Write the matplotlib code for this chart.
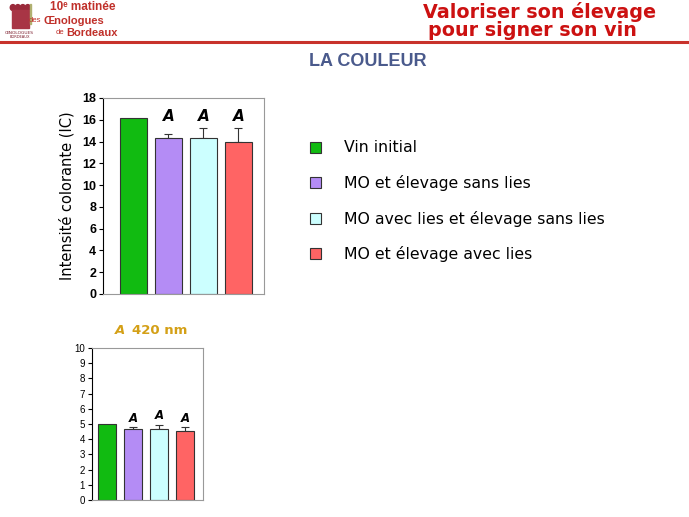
import matplotlib
matplotlib.use("Agg")
import matplotlib.pyplot as plt
from matplotlib.patches import Rectangle
import numpy as np

# data
groupes = ["Vin initial", "MO et élevage sans lies",
           "MO avec lies et élevage sans lies", "MO et élevage avec lies"]
couleurs = ["#11bb11", "#b48cf5", "#ccffff", "#ff6464"]

ic_valeurs = [16.15, 14.3, 14.3, 14.0]
ic_erreurs = [0.0, 0.4, 0.9, 1.2]
ic_lettres = ["", "A", "A", "A"]

a420_valeurs = [5.02, 4.66, 4.66, 4.53]
a420_erreurs = [0.0, 0.13, 0.29, 0.28]
a420_lettres = ["", "A", "A", "A"]

W, H = 689, 517
fig = plt.figure(figsize=(W / 100, H / 100), dpi=100)
fig.patch.set_facecolor("white")


def px_axes(x0, y0, x1, y1):
    # pixel box (top-left origin) -> figure axes
    return fig.add_axes([x0 / W, (H - y1) / H, (x1 - x0) / W, (y1 - y0) / H])


def fy(y):
    return (H - y) / H


# --- header ---
fig.add_artist(plt.Line2D([0, 1], [fy(41.5)] * 2, color="#c8322c", lw=2.2))
fig.text(423 / W, fy(17.5), "Valoriser son élevage", color="#cc1111",
         fontsize=13.8, fontweight="bold", family="DejaVu Sans", va="baseline")
fig.text(428 / W, fy(36), "pour signer son vin", color="#cc1111",
         fontsize=13.8, fontweight="bold", family="DejaVu Sans", va="baseline")

rouge = "#c0302a"
fig.text(50 / W, fy(7.5), "10ᵉ matinée", color=rouge, fontsize=8.5,
         fontweight="bold", family=["Liberation Sans", "DejaVu Sans"],
         ha="left", va="center")
fig.text(41 / W, fy(21), "des", color=rouge, fontsize=5.5,
         family="Liberation Sans", ha="right", va="center")
fig.text(43 / W, fy(21), "Œnologues", color=rouge, fontsize=8,
         fontweight="bold", family="Liberation Sans", ha="left", va="center")
fig.text(64 / W, fy(33), "de", color=rouge, fontsize=5.5,
         family="Liberation Sans", ha="right", va="center")
fig.text(66 / W, fy(33), "Bordeaux", color=rouge, fontsize=8,
         fontweight="bold", family="Liberation Sans", ha="left", va="center")

# small logo
logo = px_axes(3, 2, 36, 39)
logo.set_xlim(0, 1)
logo.set_ylim(0, 1)
logo.axis("off")
for cx in [0.3, 0.45, 0.6, 0.75]:
    logo.add_patch(plt.Circle((cx, 0.85), 0.08, color="#9a2a3a"))
logo.add_patch(Rectangle((0.28, 0.3), 0.5, 0.48, color="#a83545"))
logo.add_patch(Rectangle((0.82, 0.4), 0.04, 0.55, color="#b0b070"))
logo.text(0.5, 0.13, "ŒNOLOGUES", fontsize=3.2, color="#7a1a2a", ha="center")
logo.text(0.5, 0.02, "BORDEAUX", fontsize=2.6, color="#7a1a2a", ha="center")

fig.text(368 / W, fy(62), "LA COULEUR", color="#4a5a8c", fontsize=13,
         fontweight="bold", family="Liberation Sans", ha="center", va="center")


def barres(ax, valeurs, erreurs, lettres, largeur, ymax, pas, taille, lettre_y=None):
    x = np.arange(len(valeurs))
    bars = ax.bar(x, valeurs, width=largeur, color=couleurs,
                  edgecolor="#333333", linewidth=0.8, zorder=2)
    for xi, v, e in zip(x, valeurs, erreurs):
        if e > 0:
            ax.errorbar(xi, v, yerr=[[0], [e]], color="#333333", lw=0.8,
                        capsize=3, capthick=0.8, zorder=1)
    for xi, v, e, l in zip(x, valeurs, erreurs, lettres):
        if l:
            y = lettre_y if lettre_y is not None else v + e + ymax * 0.015
            ax.text(xi, y, l, fontsize=taille, fontstyle="italic",
                    fontweight="bold", ha="center", va="bottom", color="black")
    ax.set_ylim(0, ymax)
    ax.set_yticks(np.arange(0, ymax + 0.1, pas))
    ax.set_xticks([])
    for s in ["top", "right", "bottom"]:
        ax.spines[s].set_color("#999999")
    ax.spines["left"].set_color("black")
    ax.tick_params(axis="y", length=3, width=0.8, pad=2)
    return bars


# --- top chart: intensité colorante ---
ax1 = px_axes(103, 98, 264, 294)
bars = barres(ax1, ic_valeurs, ic_erreurs, ic_lettres, 0.75, 18, 2, 11, lettre_y=15.6)
ax1.set_xlim(-0.87, 3.73)
for t in ax1.get_yticklabels():
    t.set_fontweight("bold")
    t.set_fontsize(9)
    t.set_family("Liberation Sans")
ax1.set_ylabel("Intensité colorante (IC)", fontsize=10.5, labelpad=5)

# legend
fig.legend(bars, groupes, loc="upper left", frameon=False,
           bbox_to_anchor=(310 / W, fy(140.5)), borderaxespad=0,
           borderpad=0, fontsize=11.3, labelspacing=1.25,
           handlelength=0.7, handleheight=0.7, handletextpad=1.45)

# --- bottom chart: A 420 nm ---
ax2 = px_axes(92, 348, 203, 500)
barres(ax2, a420_valeurs, a420_erreurs, a420_lettres, 0.68, 10, 1, 8.5)
ax2.set_xlim(-0.56, 3.68)
for t in ax2.get_yticklabels():
    t.set_fontsize(7)
    t.set_family("Liberation Sans")
fig.text(115 / W, fy(331), "A", color="#d4a017", fontsize=9.5,
         fontweight="bold", fontstyle="italic", ha="left", va="center")
fig.text(132 / W, fy(331), "420 nm", color="#d4a017", fontsize=9.5,
         fontweight="bold", ha="left", va="center")

fig.savefig("out.png", dpi=100, facecolor="white")
